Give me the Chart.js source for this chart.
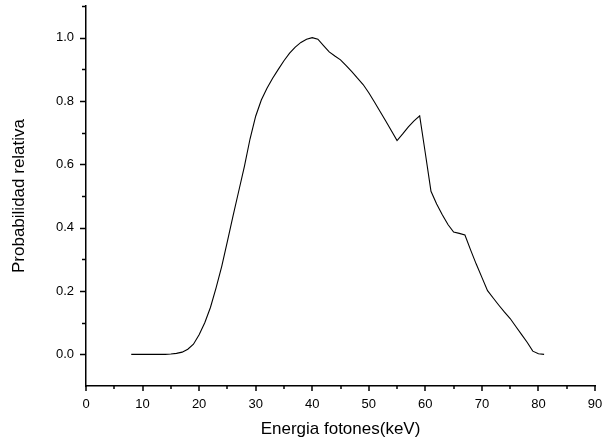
<!DOCTYPE html>
<html>
<head>
<meta charset="utf-8">
<script src="https://cdn.jsdelivr.net/npm/chart.js@4/dist/chart.umd.min.js"></script>
<style>
  html, body { margin: 0; padding: 0; background: #fff; }
  #wrap { width: 603px; height: 444px; position: relative; }
</style>
</head>
<body>
<div id="wrap"><canvas id="c" width="603" height="444"></canvas></div>
<script>
const energy = [8, 9, 10, 11, 12, 13, 14, 15, 16, 17, 18, 19, 20, 21, 22, 23, 24, 25, 26, 27,
  28, 29, 30, 31, 32, 33, 34, 35, 36, 37, 38, 39, 40, 41, 42, 43, 44, 45, 46, 47,
  48, 49, 50, 51, 52, 53, 54, 55, 56, 57, 58, 59, 60, 61, 62, 63, 64, 65, 66, 67,
  68, 69, 70, 71, 72, 73, 74, 75, 76, 77, 78, 79, 80, 81];
const probability = [0, 0, 0, 0, 0, 0, 0, 0.001, 0.003, 0.007, 0.016, 0.032, 0.062, 0.10, 0.148, 0.21, 0.278, 0.357, 0.437, 0.515,
  0.593, 0.68, 0.752, 0.803, 0.84, 0.872, 0.90, 0.927, 0.951, 0.97, 0.985, 0.995, 1.0, 0.995, 0.975, 0.955, 0.942, 0.93, 0.912, 0.893,
  0.872, 0.852, 0.826, 0.797, 0.767, 0.737, 0.706, 0.675, 0.696, 0.718, 0.737, 0.753, 0.635, 0.515, 0.475, 0.441, 0.41, 0.386, 0.382, 0.377,
  0.33, 0.285, 0.243, 0.201, 0.178, 0.155, 0.133, 0.113, 0.088, 0.063, 0.038, 0.01, 0.002, 0.0];
const xTitle = 'Energia fotones(keV)';
const yTitle = 'Probabilidad relativa';

const points = energy.map((e, i) => ({ x: e, y: probability[i] }));

const tickMarks = {
  id: 'tickMarks',
  afterDraw(chart) {
    const ctx = chart.ctx;
    const xs = chart.scales.x, ys = chart.scales.y;
    ctx.save();
    ctx.strokeStyle = '#000';
    ctx.lineWidth = 1.5;
    xs.ticks.forEach(t => {
      const px = Math.round(xs.getPixelForValue(t.value));
      const major = Math.abs(Math.round(t.value)) % 10 === 0;
      ctx.beginPath();
      ctx.moveTo(px, xs.top);
      ctx.lineTo(px, xs.top + (major ? 5 : 3));
      ctx.stroke();
    });
    ys.ticks.forEach(t => {
      const k = Math.round(t.value * 10);
      if (k < 0) return;
      const py = Math.round(ys.getPixelForValue(t.value)) + 0.5;
      const major = k % 2 === 0;
      ctx.beginPath();
      ctx.moveTo(ys.right, py);
      ctx.lineTo(ys.right - (major ? 6 : 4), py);
      ctx.stroke();
    });
    ctx.restore();
  }
};

new Chart(document.getElementById('c'), {
  type: 'scatter',
  data: {
    datasets: [{
      data: points,
      showLine: true,
      borderColor: '#000',
      borderWidth: 1.1,
      pointRadius: 0,
      tension: 0
    }]
  },
  options: {
    responsive: false,
    animation: false,
    devicePixelRatio: 1,
    layout: { padding: { left: 0, top: 6, right: 8, bottom: 0 } },
    plugins: { legend: { display: false }, tooltip: { enabled: false } },
    scales: {
      x: {
        type: 'linear',
        min: 0, max: 90,
        grid: { display: true, drawOnChartArea: false, drawTicks: false },
        border: { display: true, color: '#000', width: 1.5 },
        ticks: {
          stepSize: 5,
          padding: 11,
          color: '#000',
          maxRotation: 0,
          autoSkip: false,
          font: { family: 'Liberation Sans', size: 13 },
          callback: v => (Math.round(v) % 10 === 0 ? String(Math.round(v)) : '')
        },
        title: {
          display: true, text: xTitle, color: '#000',
          font: { family: 'Liberation Sans', size: 17 },
          padding: { top: 0, bottom: 4 }
        },
        afterFit(s) { s.height = 58; s.paddingLeft = 0; s.paddingRight = 0; }
      },
      y: {
        min: -0.1, max: 1.1,
        grid: { display: true, drawOnChartArea: false, drawTicks: false },
        border: { display: true, color: '#000', width: 1.5 },
        ticks: {
          stepSize: 0.1,
          padding: 12,
          color: '#000',
          autoSkip: false,
          font: { family: 'Liberation Sans', size: 13 },
          callback: v => {
            const k = Math.round(v * 10);
            return (k >= 0 && k % 2 === 0) ? (k / 10).toFixed(1) : '';
          }
        },
        title: {
          display: true, text: yTitle, color: '#000',
          font: { family: 'Liberation Sans', size: 17 },
          padding: { top: 9, bottom: 0 }
        },
        afterFit(s) { s.width = 86; s.paddingTop = 0; s.paddingBottom = 0; }
      }
    }
  },
  plugins: [tickMarks]
});
</script>
</body>
</html>
